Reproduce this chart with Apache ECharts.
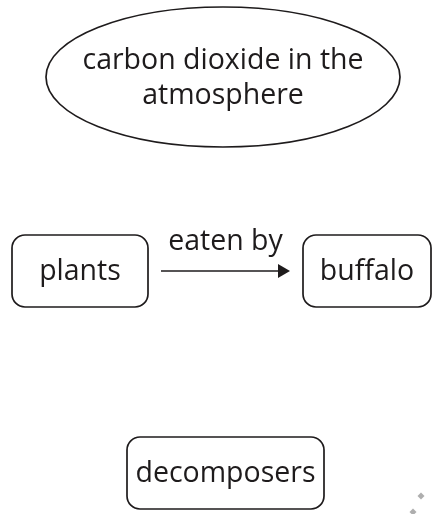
<!DOCTYPE html>
<html>
<head>
<meta charset="utf-8">
<script src="https://cdn.jsdelivr.net/npm/echarts@6/dist/echarts.min.js"></script>
<style>
html,body{margin:0;padding:0;background:#fff;}
#chart{width:432px;height:514px;}
</style>
</head>
<body>
<div id="chart"></div>
<script>
// Diagram data
var nodeNames = ['carbon dioxide in the\natmosphere', 'plants', 'buffalo', 'decomposers'];
var nodeKinds = ['ellipse', 'box', 'box', 'box'];
var nodeX = [223, 80, 367, 225.5];
var nodeY = [77, 271, 271, 473];
var linkFrom = [1];
var linkTo = [2];
var linkLabels = ['eaten by'];
var markX = [421, 413];
var markY = [496, 512];

// Styles / sizes
var INK = '#1e1b1c';
var FONT = '28.5px "Open Sans", "Noto Sans", sans-serif';
var halfSizes = { ellipse: [177, 70], box: null };
var boxHalfW = [0, 68, 64, 98.5];
var boxHalfH = 36;
var arrowGap = 13;

var chart = echarts.init(document.getElementById('chart'), null, { renderer: 'canvas' });

var nodeData = nodeNames.map(function (n, i) { return [nodeX[i], nodeY[i], i]; });
var linkData = linkFrom.map(function (f, i) {
  return [nodeX[f], nodeY[f], nodeX[linkTo[i]], nodeY[linkTo[i]], f, linkTo[i], i];
});

chart.setOption({
  animation: false,
  backgroundColor: '#fff',
  grid: { left: 0, right: 0, top: 0, bottom: 0 },
  xAxis: { type: 'value', min: 0, max: 432, show: false },
  yAxis: { type: 'value', min: 0, max: 514, inverse: true, show: false },
  series: [
    {
      type: 'custom',
      coordinateSystem: 'cartesian2d',
      data: linkData,
      z: 1,
      renderItem: function (params, api) {
        var f = api.value(4), t = api.value(5), li = api.value(6);
        var p1 = api.coord([api.value(0), api.value(1)]);
        var p2 = api.coord([api.value(2), api.value(3)]);
        var x1 = p1[0] + boxHalfW[f] + arrowGap;
        var x2 = p2[0] - boxHalfW[t] - arrowGap;
        var y = p1[1];
        var head = 12;
        return {
          type: 'group',
          children: [
            { type: 'line', shape: { x1: x1, y1: y, x2: x2 - head + 1, y2: y },
              style: { stroke: INK, lineWidth: 1.7 } },
            { type: 'polygon', shape: { points: [[x2 - head, y - 7], [x2, y], [x2 - head, y + 7]] },
              style: { fill: INK } },
            { type: 'text', style: { text: linkLabels[li], x: (x1 + x2) / 2, y: y - 29,
              align: 'center', verticalAlign: 'middle', font: FONT, fill: INK } }
          ]
        };
      }
    },
    {
      type: 'custom',
      coordinateSystem: 'cartesian2d',
      data: nodeData,
      z: 2,
      renderItem: function (params, api) {
        var i = api.value(2);
        var c = api.coord([api.value(0), api.value(1)]);
        var kind = nodeKinds[i];
        var shapeEl;
        if (kind === 'ellipse') {
          shapeEl = { type: 'ellipse', shape: { cx: c[0], cy: c[1], rx: halfSizes.ellipse[0], ry: halfSizes.ellipse[1] },
            style: { fill: '#fff', stroke: INK, lineWidth: 1.7 } };
        } else {
          shapeEl = { type: 'rect', shape: { x: c[0] - boxHalfW[i], y: c[1] - boxHalfH, width: boxHalfW[i] * 2, height: boxHalfH * 2, r: 13 },
            style: { fill: '#fff', stroke: INK, lineWidth: 1.7 } };
        }
        return {
          type: 'group',
          children: [
            shapeEl,
            { type: 'text', style: { text: nodeNames[i], x: c[0], y: c[1] + 1, align: 'center', verticalAlign: 'middle',
              font: FONT, fill: INK, lineHeight: 35 } }
          ]
        };
      }
    },
    {
      type: 'scatter',
      data: markX.map(function (x, i) { return [x, markY[i]]; }),
      symbol: 'diamond',
      symbolSize: 7,
      itemStyle: { color: '#9a9a9a' },
      silent: true,
      z: 0
    }
  ]
});
</script>
</body>
</html>
